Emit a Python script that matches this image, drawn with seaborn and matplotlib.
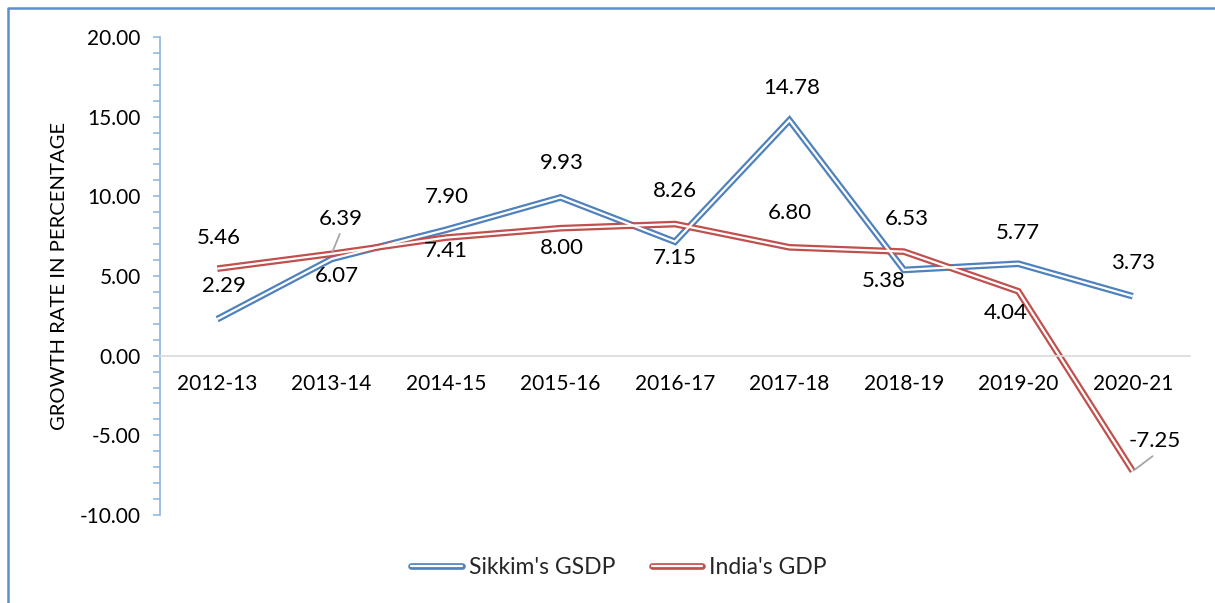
import matplotlib
matplotlib.use("Agg")
from matplotlib import pyplot as plt
from matplotlib.lines import Line2D
from matplotlib.legend_handler import HandlerTuple
from matplotlib.ticker import MultipleLocator, FormatStrFormatter
import seaborn as sns
import pandas as pd

# Data
years = ["2012-13", "2013-14", "2014-15", "2015-16", "2016-17",
         "2017-18", "2018-19", "2019-20", "2020-21"]
sikkim = [2.29, 6.07, 7.90, 9.93, 7.15, 14.78, 5.38, 5.77, 3.73]
india = [5.46, 6.39, 7.41, 8.00, 8.26, 6.80, 6.53, 4.04, -7.25]
series_names = ["Sikkim's GSDP", "India's GDP"]

df = pd.DataFrame({
    "year": years * 2,
    "growth": sikkim + india,
    "series": [series_names[0]] * len(years) + [series_names[1]] * len(years),
})

# label offsets (pixels) - picked by eye to mimic Excel's placement
sikkim_off = [(7, 33), (5, -17), (1, 33), (1, 34), (0, -16), (2, 32), (-20, -11), (0, 31), (0, 33)]
india_off = [(2, 31), (9, 35), (0, -13), (1, -20), (0, 33), (0, 34), (3, 33), (-13, -22), (22, 30)]

blue = "#4F81BD"
red = "#C0504D"
axis_col = "#8DB4E2"
palette = {series_names[0]: blue, series_names[1]: red}
white_pal = {series_names[0]: "white", series_names[1]: "white"}

sns.set_theme(style="white")
plt.rcParams["font.family"] = ["Lato", "DejaVu Sans"]

fig = plt.figure(figsize=(12.15, 6.03), dpi=100)
ax = fig.add_axes([160 / 1215, 1 - 515 / 603, 1030 / 1215, 478 / 603])

# double line look: thick coloured line with a thin white line on top
sns.lineplot(data=df, x="year", y="growth", hue="series", palette=palette,
             linewidth=4.8, legend=False, sort=False, ax=ax,
             solid_joinstyle="miter", solid_capstyle="butt")
sns.lineplot(data=df, x="year", y="growth", hue="series", palette=white_pal,
             linewidth=1.6, legend=False, sort=False, ax=ax,
             solid_joinstyle="miter", solid_capstyle="butt")

ax.set_xlim(-0.5, len(years) - 0.5)
ax.set_ylim(-10, 20)

for vals, offs in [(sikkim, sikkim_off), (india, india_off)]:
    for yr, v, (dx, dy) in zip(years, vals, offs):
        ax.annotate(f"{v:.2f}", xy=(yr, v), xytext=(dx, dy), textcoords="offset pixels",
                    ha="center", va="center", fontsize=16, color="black")

# leader lines Excel draws for the moved labels
for yr, v in [(years[1], india[1]), (years[8], india[8])]:
    i = years.index(yr)
    dx, dy = india_off[i]
    ax.annotate("", xy=(yr, v), xytext=(dx * 0.9, dy - 15), textcoords="offset pixels",
                arrowprops=dict(arrowstyle="-", color="#A6A6A6", lw=1.3, shrinkA=0, shrinkB=1))

# axes styling
for s in ["top", "right"]:
    ax.spines[s].set_visible(False)
ax.spines["left"].set_color(axis_col)
ax.spines["left"].set_linewidth(1.2)
ax.spines["bottom"].set_position(("data", 0))
ax.spines["bottom"].set_color("#D9D9D9")
ax.spines["bottom"].set_linewidth(1.2)

ax.yaxis.set_major_locator(MultipleLocator(5))
ax.yaxis.set_minor_locator(MultipleLocator(1))
ax.yaxis.set_major_formatter(FormatStrFormatter("%.2f"))
ax.tick_params(axis="y", which="both", direction="out", length=5, width=1.1,
               color=axis_col, left=True, labelsize=15, labelcolor="black", pad=9)
ax.tick_params(axis="x", length=0, labelsize=15, labelcolor="black", pad=13)
ax.set_xlabel("")
ax.set_ylabel("GROWTH RATE IN PERCENTAGE", fontsize=14.6, color="black")
ax.yaxis.set_label_coords(-0.089, 0.5)

handles = [(Line2D([], [], color=c, lw=4.8), Line2D([], [], color="white", lw=1.6))
           for c in [blue, red]]
fig.legend(handles, series_names, handler_map={tuple: HandlerTuple(ndivide=1)},
           loc="center", bbox_to_anchor=(619 / 1215, 1 - 568 / 603), ncol=2,
           frameon=False, fontsize=16.5, handlelength=2.2, columnspacing=1.6,
           handletextpad=0.3)

# outer chart-area border (only left and top visible in the crop)
bx, by = 8 / 1215, 1 - 8 / 603
fig.add_artist(Line2D([bx, bx, 1.0], [0.0, by, by], transform=fig.transFigure,
                      color="#5B8FD0", lw=1.8))

plt.savefig("out.png", dpi=100)
